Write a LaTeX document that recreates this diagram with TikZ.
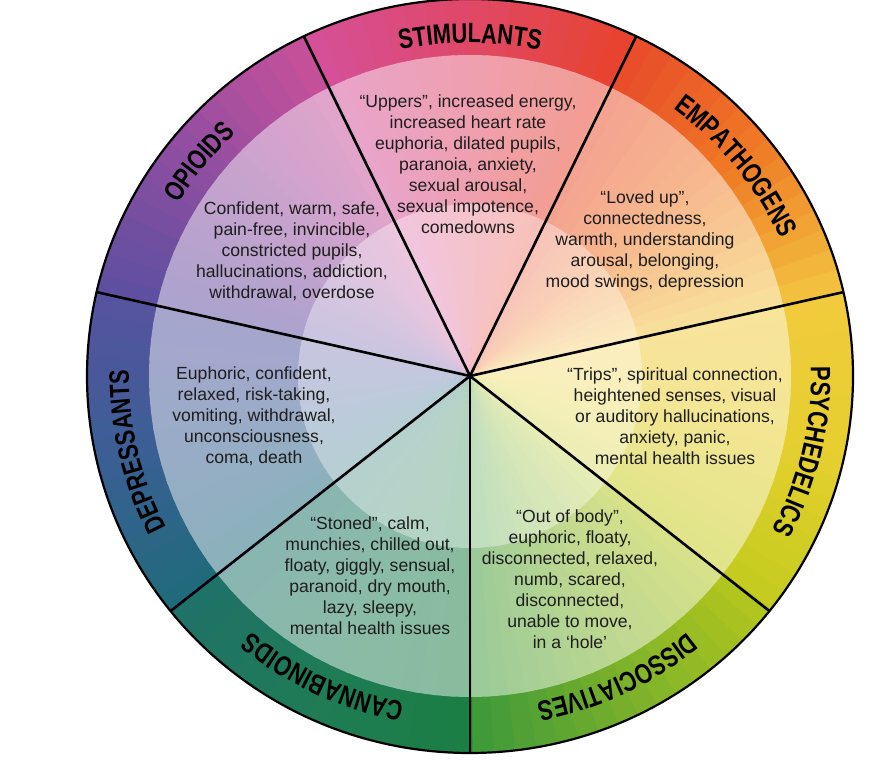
\documentclass[tikz,border=0pt]{standalone}
\usepackage{fontspec}
\usetikzlibrary{decorations.text}
\newfontfamily\bodyfont{Liberation Sans}
\newfontfamily\catfont[FakeStretch=0.78]{Liberation Sans}
\newcommand\labfont{\catfont\bfseries\fontsize{28}{30}\selectfont}
% segment colour stops (start, middle, end, going clockwise)
\definecolor{c0a}{HTML}{D4509A}\definecolor{c0b}{HTML}{E04868}\definecolor{c0c}{HTML}{E8432E}
\definecolor{c1a}{HTML}{E84A2A}\definecolor{c1b}{HTML}{EF7A25}\definecolor{c1c}{HTML}{F2C340}
\definecolor{c2a}{HTML}{F3CB3E}\definecolor{c2b}{HTML}{E5CF2E}\definecolor{c2c}{HTML}{C4CC1E}
\definecolor{c3a}{HTML}{B4C61E}\definecolor{c3b}{HTML}{7BB12B}\definecolor{c3c}{HTML}{3C9839}
\definecolor{c4a}{HTML}{1B7E43}\definecolor{c4b}{HTML}{1F7C56}\definecolor{c4c}{HTML}{1F7168}
\definecolor{c5a}{HTML}{1F6B7A}\definecolor{c5b}{HTML}{3A5F94}\definecolor{c5c}{HTML}{5653A0}
\definecolor{c6a}{HTML}{5B4FA0}\definecolor{c6b}{HTML}{8E4EA0}\definecolor{c6c}{HTML}{C8509A}
\definecolor{txtcol}{HTML}{1E1E1E}
% set colour "cur" and angles \aS,\aE for slice #2 of segment #1
\newcommand\slicesetup[2]{%
  \pgfmathsetmacro\aS{115.7143-#1*51.4286-#2*3.2143+0.35}%
  \pgfmathsetmacro\aE{\aS-3.2143-0.7}%
  \ifnum#2<8
    \pgfmathtruncatemacro\pct{100-(#2+0.5)*12.5}%
    \edef\mix{c#1a!\pct!c#1b}%
  \else
    \pgfmathtruncatemacro\pct{100-(#2-7.5)*12.5}%
    \edef\mix{c#1b!\pct!c#1c}%
  \fi
  \colorlet{cur}{\mix}}
\tikzset{
  txt/.style={align=center, inner sep=0pt, text=txtcol, font=\bodyfont\fontsize{17.6}{21}\selectfont},
  lab/.style={decorate, decoration={text along path, text align=center, text={|\labfont|#1}}},
  divider/.style={line width=2.6pt, black},
  rim/.style={line width=2.2pt, black}
}
\begin{document}
\begin{tikzpicture}[x=1pt,y=1pt]
\useasboundingbox (0,0) rectangle (873,762);
\fill[white] (0,0) rectangle (873,762);
\begin{scope}[shift={(470,386)}]
  % outer band
  \foreach \seg in {0,...,6}{
    \foreach \k in {0,...,15}{
      \slicesetup{\seg}{\k}
      \fill[cur] (0,0) -- ({383*cos(\aS)},{377*sin(\aS)}) arc[start angle=\aS, end angle=\aE, x radius=383, y radius=377] -- cycle;
    }
  }
  % middle ring
  \foreach \seg in {0,...,6}{
    \foreach \k in {0,...,15}{
      \slicesetup{\seg}{\k}
      \fill[cur!52!white] (0,0) -- (\aS:321) arc[start angle=\aS, end angle=\aE, radius=321] -- cycle;
    }
  }
  % inner disk
  \foreach \seg in {0,...,6}{
    \foreach \k in {0,...,15}{
      \slicesetup{\seg}{\k}
      \fill[cur!33!white] (0,0) -- (\aS:172) arc[start angle=\aS, end angle=\aE, radius=172] -- cycle;
    }
  }
  \foreach \i in {0,...,6}{
    \draw[divider] (0,0) -- ({383*cos(270+\i*51.4286)},{377*sin(270+\i*51.4286)});
  }
  \draw[rim] (0,0) ellipse[x radius=383, y radius=377];
  % category labels along the band
  \path[lab=STIMULANTS] ({341*cos(135)},{333*sin(135)}) arc[start angle=135, end angle=45, x radius=341, y radius=333];
  \path[lab=EMPATHOGENS] ({341*cos(83.5714)},{333*sin(83.5714)}) arc[start angle=83.5714, end angle=-6.4286, x radius=341, y radius=333];
  \path[lab=PSYCHEDELICS] ({341*cos(32.1429)},{333*sin(32.1429)}) arc[start angle=32.1429, end angle=-57.8571, x radius=341, y radius=333];
  \path[lab=DISSOCIATIVES] ({341*cos(-19.2857)},{333*sin(-19.2857)}) arc[start angle=-19.2857, end angle=-109.2857, x radius=341, y radius=333];
  \path[lab=CANNABINOIDS] ({341*cos(-70.7143)},{333*sin(-70.7143)}) arc[start angle=-70.7143, end angle=-160.7143, x radius=341, y radius=333];
  \path[lab=DEPRESSANTS] ({341*cos(-122.1429)},{333*sin(-122.1429)}) arc[start angle=-122.1429, end angle=-212.1429, x radius=341, y radius=333];
  \path[lab=OPIOIDS] ({341*cos(186.4286)},{333*sin(186.4286)}) arc[start angle=186.4286, end angle=96.4286, x radius=341, y radius=333];
\end{scope}
% effect texts
\node[txt] (stim) at (468,598) {“Uppers”, increased energy,\\increased heart rate\\euphoria, dilated pupils,\\paranoia, anxiety,\\sexual arousal,\\sexual impotence,\\comedowns};
\node[txt] (empa) at (645,521.5) {“Loved up”,\\connectedness,\\warmth, understanding\\arousal, belonging,\\mood swings, depression};
\node[txt] (psych) at (675,346) {“Trips”, spiritual connection,\\heightened senses, visual\\or auditory hallucinations,\\anxiety, panic,\\mental health issues};
\node[txt] (diss) at (570,183) {“Out of body”,\\euphoric, floaty,\\disconnected, relaxed,\\numb, scared,\\disconnected,\\unable to move,\\in a ‘hole’};
\node[txt] (cann) at (370,186) {“Stoned”, calm,\\munchies, chilled out,\\floaty, giggly, sensual,\\paranoid, dry mouth,\\lazy, sleepy,\\mental health issues};
\node[txt] (depr) at (254,346) {Euphoric, confident,\\relaxed, risk-taking,\\vomiting, withdrawal,\\unconsciousness,\\coma, death};
\node[txt] (opio) at (292,511) {Confident, warm, safe,\\pain-free, invincible,\\constricted pupils,\\hallucinations, addiction,\\withdrawal, overdose};
\end{tikzpicture}
\end{document}
